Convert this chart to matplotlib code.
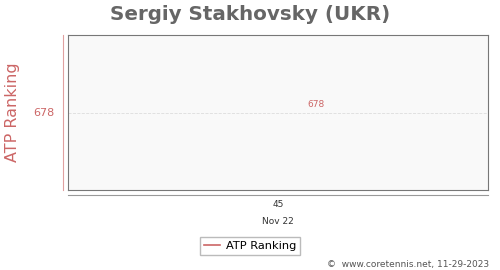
import matplotlib
matplotlib.use('Agg')
import matplotlib.pyplot as plt
from matplotlib.lines import Line2D

# data
weeks = ['45']
dates = ['Nov 22']
ranking = [678]

red = '#cc6666'

fig = plt.figure(figsize=(5, 2.7), dpi=100)
ax = fig.add_axes([68 / 500, 80 / 270, 420 / 500, 155 / 270])
ax.set_facecolor('#f9f9f9')

x = list(range(len(ranking)))
line, = ax.plot(x, ranking, color=red, linewidth=1.2, label='ATP Ranking')
for xi, r in zip(x, ranking):
    ax.annotate(str(r), (xi, r), xytext=(27, 6), textcoords='offset points',
                ha='center', va='center', fontsize=6.5, color=red)

ax.set_xlim(-1, 1)
ax.set_ylim(ranking[0] - 1, ranking[0] + 1)
ax.set_yticks(ranking)
ax.set_yticklabels([str(r) for r in ranking], color=red, fontsize=8)
ax.set_xticks(x)
ax.set_xticklabels([w + '\n\n' + d for w, d in zip(weeks, dates)], fontsize=6.5,
                   color='#333333', linespacing=0.95)
ax.tick_params(axis='x', length=0, pad=7)
ax.tick_params(axis='y', length=0, pad=10)
ax.grid(axis='y', color='#dddddd', linestyle='--', linewidth=0.6)
for s in ax.spines.values():
    s.set_color('#777777')
    s.set_linewidth(0.8)

ax.set_ylabel('ATP Ranking', color=red, fontsize=11.5)
ax.yaxis.set_label_coords(-48 / 420, 0.5)
fig.suptitle('Sergiy Stakhovsky (UKR)', fontsize=14.3, fontweight='bold',
             color='#666666', y=0.983)

# outer axis lines
fig.add_artist(Line2D([63 / 500, 63 / 500], [1 - 35 / 270, 1 - 190 / 270],
                      color='#e0a0a0', linewidth=0.8))
fig.add_artist(Line2D([68 / 500, 488 / 500], [1 - 195 / 270, 1 - 195 / 270],
                      color='#999999', linewidth=0.8))

fig.legend(handles=[line], loc='center', bbox_to_anchor=(250 / 500, 1 - 246 / 270),
           fontsize=8.2, frameon=True, fancybox=False, edgecolor='#aaaaaa',
           handlelength=1.4, handletextpad=0.5, borderpad=0.35, borderaxespad=0)
fig.text(489 / 500, 1 - 264 / 270, '\u00a9  www.coretennis.net, 11-29-2023',
         ha='right', va='center', fontsize=6.5, color='#555555')

fig.savefig('out.png', dpi=100)
